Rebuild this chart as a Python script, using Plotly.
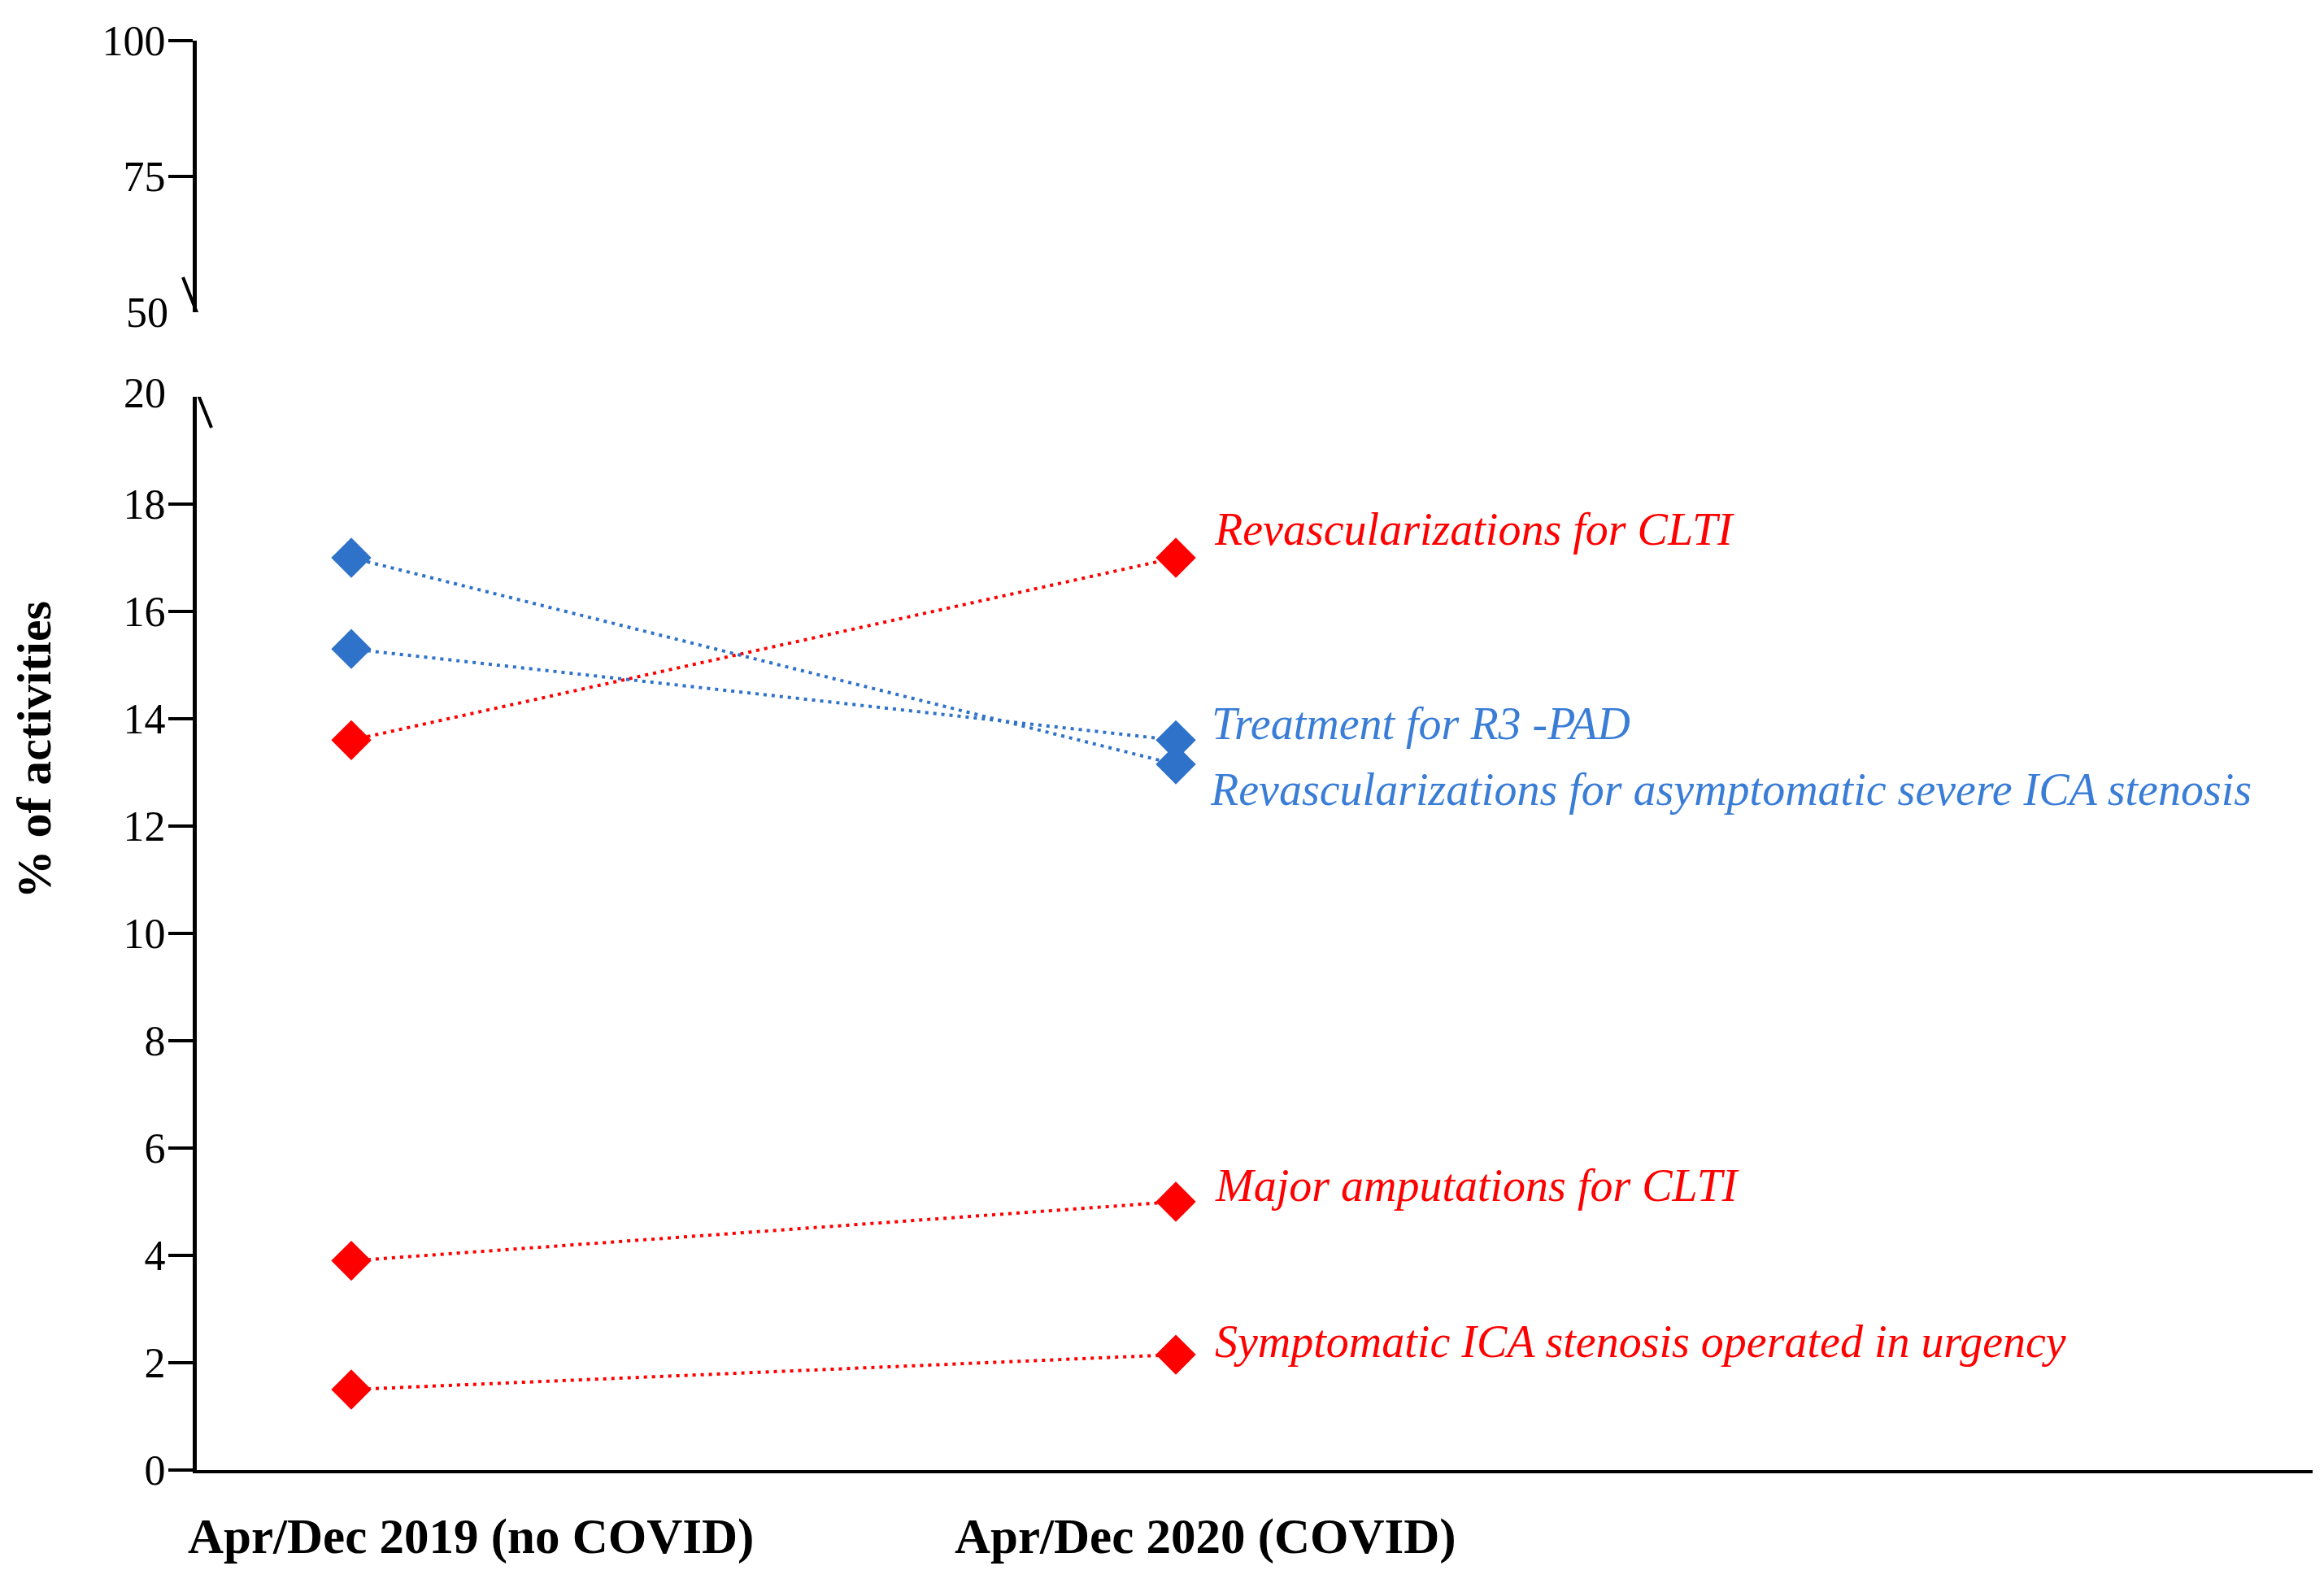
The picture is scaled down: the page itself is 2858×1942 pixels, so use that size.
import plotly.graph_objects as go

# ---- data ----
periods = ["Apr/Dec 2019 (no COVID)", "Apr/Dec 2020 (COVID)"]
period_pos = [0, 1]

series_names = [
    "Revascularizations for CLTI",
    "Treatment for R3 -PAD",
    "Revascularizations for asymptomatic severe ICA stenosis",
    "Major amputations for CLTI",
    "Symptomatic ICA stenosis operated in urgency",
]
clti_revasc = [13.6, 17.0]
r3_pad = [15.3, 13.6]
asympt_ica = [17.0, 13.15]
major_amp = [3.9, 5.0]
sympt_ica = [1.5, 2.15]

lower_ticks = [0, 2, 4, 6, 8, 10, 12, 14, 16, 18]
upper_ticks = [75, 100]
break_low_top = 20
break_high_bottom = 50

RED = "#FF0000"
BLUE_M = "#2F72C9"
BLUE_T = "#3A7DD6"
SERIF = "Liberation Serif"

series_vals = [clti_revasc, r3_pad, asympt_ica, major_amp, sympt_ica]
series_cols = [RED, BLUE_M, BLUE_M, RED, RED]
text_cols = [RED, BLUE_T, BLUE_T, RED, RED]
label_shift = [(45, 35), (42, 20), (40, -31), (46, 20), (46, 16)]

fig = go.Figure()
for name, vals, col in zip(series_names, series_vals, series_cols):
    fig.add_trace(go.Scatter(
        x=period_pos, y=vals, mode="lines+markers", name=name,
        line=dict(color=col, width=4, dash="4px,6px"),
        marker=dict(symbol="diamond", size=38, color=col, line=dict(width=0)),
        xaxis="x", yaxis="y", hoverinfo="skip",
    ))

annotations = []
for name, vals, tcol, (dx, dy) in zip(series_names, series_vals, text_cols, label_shift):
    annotations.append(dict(
        x=period_pos[1], y=vals[1], xref="x", yref="y", text=name,
        showarrow=False, xanchor="left", yanchor="middle", xshift=dx, yshift=dy,
        font=dict(family=SERIF, size=56, color=tcol, style="italic"),
    ))

# period labels (placed as in the original, slightly right of the points)
label_x = [0.145, 1.036]
for lx, p in zip(label_x, periods):
    annotations.append(dict(
        x=lx, y=0, xref="x", yref="paper", text=p, showarrow=False,
        xanchor="center", yanchor="middle", yshift=-82,
        font=dict(family=SERIF, size=61, color="black", weight="bold"),
    ))

# break labels without ticks
annotations.append(dict(x=0, xref="paper", y=break_high_bottom, yref="y2",
                        text=str(break_high_bottom), showarrow=False,
                        xanchor="right", yanchor="middle", xshift=-33,
                        font=dict(family=SERIF, size=52, color="black")))
annotations.append(dict(x=0, xref="paper", y=break_low_top, yref="y",
                        text=str(break_low_top), showarrow=False,
                        xanchor="right", yanchor="middle", xshift=-36, yshift=4,
                        font=dict(family=SERIF, size=52, color="black")))

# y title
annotations.append(dict(x=-0.077, y=0.504, xref="paper", yref="paper",
                        text="% of activities", showarrow=False, textangle=-90,
                        xanchor="center", yanchor="middle",
                        font=dict(family=SERIF, size=60, color="black", weight="bold")))

shapes = [
    dict(type="line", xref="paper", xsizemode="pixel", xanchor=0, x0=-17, x1=18,
         yref="y2", ysizemode="pixel", yanchor=break_high_bottom, y0=43, y1=-46,
         line=dict(color="black", width=4)),
    dict(type="line", xref="paper", xsizemode="pixel", xanchor=0, x0=-17, x1=18,
         yref="y", ysizemode="pixel", yanchor=break_low_top, y0=49, y1=-38,
         line=dict(color="black", width=4)),
]

yax_common = dict(
    showline=True, linecolor="black", linewidth=5, showgrid=False, zeroline=False,
    ticks="outside", ticklen=30, tickwidth=4, tickcolor="black",
    ticklabelstandoff=-7,
    tickfont=dict(family=SERIF, size=52, color="black"),
)

fig.update_layout(
    width=2858, height=1942,
    margin=dict(l=234, r=22, t=42, b=142),
    paper_bgcolor="white", plot_bgcolor="white",
    showlegend=False,
    xaxis=dict(range=[-0.1874, 2.3787], showline=True, linecolor="black", linewidth=4,
               showgrid=False, zeroline=False, showticklabels=False, ticks="",
               anchor="y"),
    yaxis=dict(domain=[0, 0.7509], range=[0, break_low_top], tickvals=lower_ticks,
               anchor="x", **yax_common),
    yaxis2=dict(domain=[0.8100, 1], range=[break_high_bottom, 100], tickvals=upper_ticks,
                anchor="x", **yax_common),
    annotations=annotations,
    shapes=shapes,
)

fig.write_html("out.html")
